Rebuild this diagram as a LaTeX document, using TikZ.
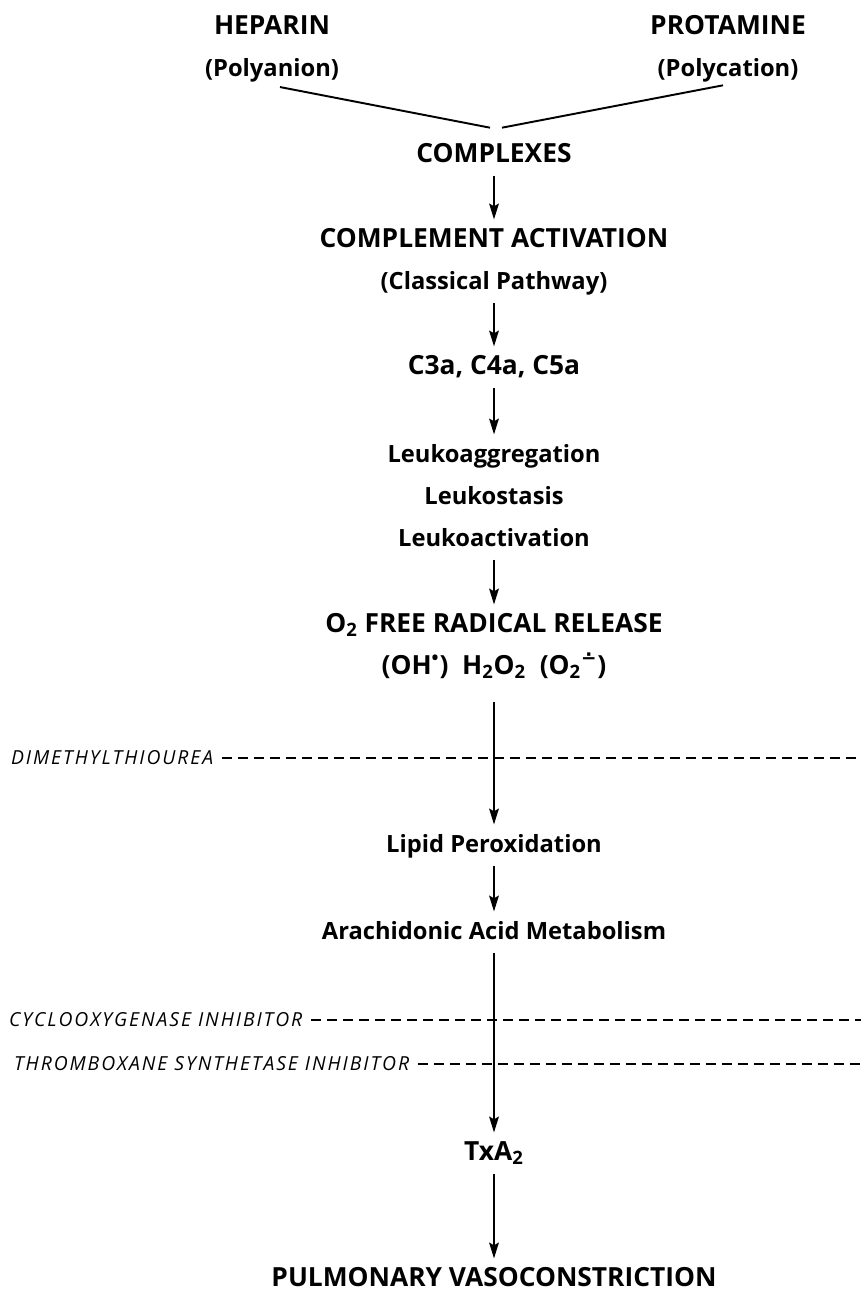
\documentclass[tikz,border=0pt]{standalone}
\usepackage{fontspec}
\setmainfont{Open Sans}
\newfontfamily\inhibfont[LetterSpace=10.0]{Open Sans}
\newfontfamily\symfont{DejaVu Sans}
\usepackage{tikz}
\usetikzlibrary{arrows.meta}
\tikzstyle{stage} = [text centered, font=\fontsize{13.5}{15}\selectfont\bfseries, text height=11pt, text depth=3pt, inner xsep=2pt, inner ysep=4.5pt]
\tikzstyle{stagecap} = [stage, font=\fontsize{15}{17}\selectfont\bfseries]
\tikzstyle{inhib} = [anchor=west, inner xsep=5pt, inner ysep=2pt, font=\inhibfont\fontsize{11}{13}\selectfont\itshape]
\tikzstyle{arrow} = [line width=1.1pt, -{Stealth[length=9pt, width=5.5pt, inset=1.5pt]}]
\tikzstyle{link} = [line width=1.1pt]
\tikzstyle{blocker} = [line width=0.9pt, dash pattern=on 5.7pt off 3.4pt]

\begin{document}
\begin{tikzpicture}[node distance=0.84cm]
\useasboundingbox (0,0) rectangle (17.22,-25.84);

\node (hep) [stagecap] at (5.44,-0.54) {HEPARIN};
\node (polan) [stage, below of=hep] {(Polyanion)};
\node (prot) [stagecap] at (14.56,-0.54) {PROTAMINE};
\node (polcat) [stage, below of=prot] {(Polycation)};

\node (cplx) [stagecap] at (9.88,-3.10) {COMPLEXES};
\node (cact) [stagecap, below of=cplx, yshift=-0.86cm] {COMPLEMENT ACTIVATION};
\node (classic) [stage, below of=cact] {(Classical Pathway)};
\node (cfrag) [stagecap, below of=classic, yshift=-0.86cm] {C3a, C4a, C5a};
\node (lagg) [stage, below of=cfrag, yshift=-0.92cm] {Leukoaggregation};
\node (lsta) [stage, below of=lagg] {Leukostasis};
\node (lact) [stage, below of=lsta] {Leukoactivation};
\node (otwo) [stagecap, below of=lact, yshift=-0.88cm] {O\textsubscript{2} FREE RADICAL RELEASE};
\node (ros) [stagecap, below of=otwo] {(OH\textsuperscript{•})\ \ H\textsubscript{2}O\textsubscript{2}\ \ (O\textsubscript{2}\textsuperscript{\symfont\bfseries ∸})};
\node (lipid) [stage, below of=ros, yshift=-2.72cm] {Lipid Peroxidation};
\node (arach) [stage, below of=lipid, yshift=-0.90cm] {Arachidonic Acid Metabolism};
\node (txa) [stagecap, below of=arach, yshift=-3.58cm] {TxA\textsubscript{2}};
\node (pulm) [stagecap, below of=txa, yshift=-1.68cm] {PULMONARY VASOCONSTRICTION};

\node (dmtu) [inhib] at (0.04,-15.16) {DIMETHYLTHIOUREA};
\node (cox) [inhib] at (0.0,-20.40) {CYCLOOXYGENASE INHIBITOR};
\node (txs) [inhib] at (0.1,-21.28) {THROMBOXANE SYNTHETASE INHIBITOR};
\coordinate (dmtuend) at (17.22,-15.16);
\coordinate (coxend) at (17.22,-20.40);
\coordinate (txsend) at (17.22,-21.28);

\draw [link] ([xshift=1.6mm,yshift=0.5mm]polan.south) -- ([xshift=-0.8mm,yshift=1.35mm]cplx.north);
\draw [link] ([xshift=1.6mm,yshift=1.35mm]cplx.north) -- ([xshift=-1mm,yshift=0.85mm]polcat.south);

\draw [blocker] (dmtu.east) -- (dmtuend);
\draw [blocker] (cox.east) -- (coxend);
\draw [blocker] (txs.east) -- (txsend);

\draw [arrow] (cplx) -- (cact);
\draw [arrow] (classic) -- (cfrag);
\draw [arrow] (cfrag) -- (lagg);
\draw [arrow] (lact) -- (otwo);
\draw [arrow, shorten <=0.28cm] (ros) -- (lipid);
\draw [arrow] (lipid) -- (arach);
\draw [arrow] (arach) -- (txa);
\draw [arrow] (txa) -- (pulm);

\end{tikzpicture}
\end{document}
